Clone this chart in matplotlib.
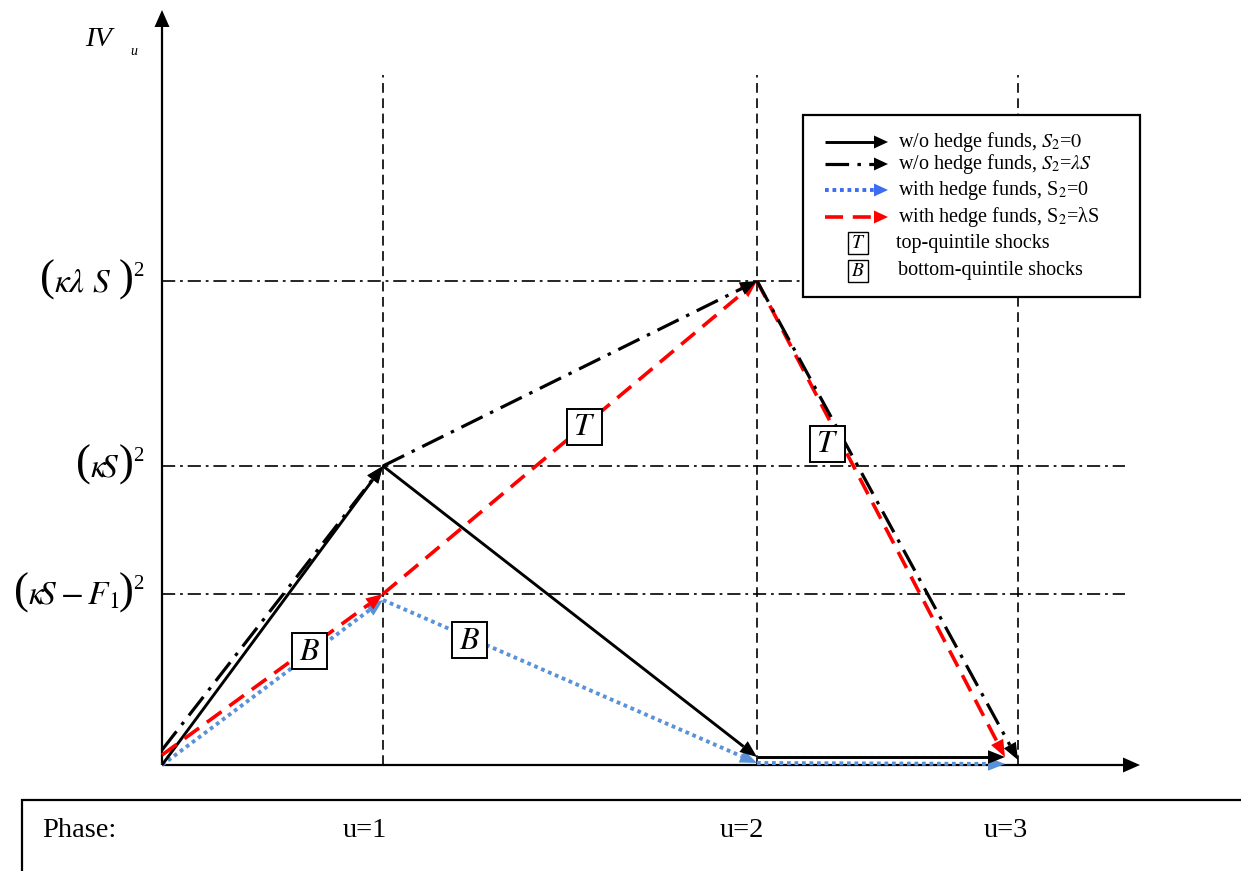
import numpy as np
import matplotlib
matplotlib.use("Agg")
import matplotlib.pyplot as plt
from matplotlib.patches import Polygon, Rectangle

plt.rcParams["font.family"] = ["Liberation Serif", "DejaVu Serif"]
plt.rcParams["mathtext.fontset"] = "stix"
plt.rcParams["lines.scale_dashes"] = False

# ---- diagram data (horizontal: phase position, vertical: IV level) ----
phase_pos = [2.21, 5.95, 8.56]              # u=1, u=2, u=3
phase_labels = ["u=1", "u=2", "u=3"]
level_vals = [1.71, 2.99, 4.84]             # (kS-F1)^2, (kS)^2, (k lambda S)^2
level_inner = [r"$\kappa\!S-F_1$", r"$\kappa\!S$", r"$\kappa\lambda\ S$"]
level_pad = [0.0, 0.0, 0.09]                # extra room before the closing bracket

# w/o hedge funds, S2 = 0
nohf_s0_x = [0.0, 2.21, 5.95, 8.43]
nohf_s0_y = [0.0, 2.99, 0.08, 0.08]
# w/o hedge funds, S2 = lambda S
nohf_ls_x = [0.0, 2.21, 5.95, 8.56]
nohf_ls_y = [0.15, 2.99, 4.84, 0.05]
# with hedge funds, S2 = 0
hf_s0_x = [0.0, 2.21, 5.95, 8.43]
hf_s0_y = [0.0, 1.65, 0.02, 0.01]
# with hedge funds, S2 = lambda S
hf_ls_x = [0.0, 2.21, 5.95, 8.43]
hf_ls_y = [0.10, 1.71, 4.84, 0.08]

# shock-type markers placed on the paths
tag_text = ["T", "T", "B", "B"]
tag_x = [4.225, 6.65, 1.475, 3.075]
tag_y = [3.385, 3.215, 1.14, 1.25]

legend_labels = [r"w/o hedge funds, $S_2$=$\mathit{0}$",
                 r"w/o hedge funds, $S_2$=$\lambda S$",
                 r"with hedge funds, S$_2$=0",
                 r"with hedge funds, S$_2$=λS",
                 "top-quintile shocks",
                 "bottom-quintile shocks"]

BLUE = "#5A92DA"
BLUE_LEG = "#3C6CF2"
RED = "#FF0000"
BLACK = "#000000"

STYLES = {
    "solid": dict(color=BLACK, ls="-", lw=2.1),
    "dashdot": dict(color=BLACK, ls=(0, (17, 6, 2.5, 6)), lw=2.3),
    "dotted": dict(color=BLUE, ls=(0, (2.7, 2.7)), lw=2.8),
    "dashed": dict(color=RED, ls=(0, (13, 7)), lw=2.6),
}

fig = plt.figure(figsize=(12.41, 8.71), dpi=100)
ax = fig.add_axes([0, 0, 1, 1])
ax.set_xlim(-1.62, 10.79)
ax.set_ylim(-1.06, 7.65)
ax.axis("off")
renderer = fig.canvas.get_renderer()

HL, HW = 0.17, 0.068


def arrow_seg(x0, y0, x1, y1, color, ls, lw, z=3, hl=HL, hw=HW, head=True):
    dx, dy = x1 - x0, y1 - y0
    L = np.hypot(dx, dy)
    ux, uy = dx / L, dy / L
    bx, by = (x1 - ux * hl, y1 - uy * hl) if head else (x1, y1)
    ax.plot([x0, bx], [y0, by], color=color, linestyle=ls, lw=lw,
            solid_capstyle="butt", dash_capstyle="butt", zorder=z)
    if head:
        pts = [(x1, y1), (bx - uy * hw, by + ux * hw), (bx + uy * hw, by - ux * hw)]
        ax.add_patch(Polygon(pts, closed=True, facecolor=color, edgecolor="none", zorder=z + 0.1))


def path(xs, ys, style, z):
    st = STYLES[style]
    for i in range(len(xs) - 1):
        arrow_seg(xs[i], ys[i], xs[i + 1], ys[i + 1], st["color"], st["ls"], st["lw"], z=z)


def width_of(t):
    return t.get_window_extent(renderer).width / 100.0


def level_label(x_right, yv, inner, pad):
    """Right-aligned (inner)^2 with tall parentheses, built right to left."""
    base = yv - 0.10
    sup = ax.text(x_right, yv + 0.05, "2", ha="right", va="baseline", fontsize=15, zorder=5)
    x = x_right - width_of(sup) + 0.01
    rp = ax.text(x, base, ")", ha="right", va="baseline", fontsize=32, zorder=5)
    x -= width_of(rp) - 0.01 + pad
    body = ax.text(x, base, inner, ha="right", va="baseline", fontsize=24, zorder=5)
    x -= width_of(body) - 0.01
    ax.text(x, base, "(", ha="right", va="baseline", fontsize=32, zorder=5)


# reference grid: vertical phase lines and horizontal level lines
for xp in phase_pos:
    ax.plot([xp, xp], [0, 6.90], color=BLACK, lw=1.2, ls=(0, (7, 4)), zorder=1)
level_ends = [9.63, 9.63, 6.41]
for yv, xe in zip(level_vals, level_ends):
    ax.plot([0, xe], [yv, yv], color=BLACK, lw=1.2, ls=(0, (9.5, 3.5, 2, 3.5)), zorder=1)

# axes with arrows
arrow_seg(0, 0, 0, 7.55, BLACK, "-", 1.6, z=2, hl=0.17, hw=0.075)
arrow_seg(0, 0, 9.78, 0, BLACK, "-", 1.6, z=2, hl=0.17, hw=0.075)

# paths
path(hf_s0_x, hf_s0_y, "dotted", 3)
path(nohf_s0_x, nohf_s0_y, "solid", 3.3)
path(hf_ls_x, hf_ls_y, "dashed", 3.6)
path(nohf_ls_x, nohf_ls_y, "dashdot", 3.9)

# level labels
for yv, inner, pad in zip(level_vals, level_inner, level_pad):
    level_label(-0.19, yv, inner, pad)

# axis title IV_u
ax.text(-0.77, 7.26, "IV", ha="left", va="center", fontsize=20.5, style="italic")
ax.text(-0.32, 7.14, "u", ha="left", va="center", fontsize=10, style="italic")

# T / B tags
for t, xc, yc in zip(tag_text, tag_x, tag_y):
    w, h = 0.35, 0.36
    ax.add_patch(Rectangle((xc - w / 2, yc - h / 2), w, h, facecolor="white",
                           edgecolor=BLACK, lw=1.4, zorder=6))
    ax.text(xc, yc - 0.01, "$" + t + "$", ha="center", va="center", fontsize=23, zorder=7)

# legend box
lx0, ly0, lx1, ly1 = 6.41, 4.68, 9.78, 6.50
ax.add_patch(Rectangle((lx0, ly0), lx1 - lx0, ly1 - ly0, facecolor="white",
                       edgecolor=BLACK, lw=1.6, zorder=8))
row_y = [6.23, 6.01, 5.75, 5.48, 5.22, 4.94]
leg_styles = ["solid", "dashdot", "dotted", "dashed"]
for i, style in enumerate(leg_styles):
    st = STYLES[style]
    col = BLUE_LEG if style == "dotted" else st["color"]
    arrow_seg(6.63, row_y[i], 7.26, row_y[i], col, st["ls"], st["lw"], z=9,
              hl=0.14, hw=0.065)
    ax.text(7.36, row_y[i], legend_labels[i], ha="left", va="center", fontsize=14.5, zorder=10)
for j, t in enumerate(["T", "B"]):
    yc = row_y[4 + j]
    ax.add_patch(Rectangle((6.86, yc - 0.11), 0.20, 0.22, facecolor="white",
                           edgecolor=BLACK, lw=1.0, zorder=9))
    ax.text(6.96, yc - 0.005, "$" + t + "$", ha="center", va="center", fontsize=14, zorder=10)
    ax.text(7.34 + 0.02 * j, yc, legend_labels[4 + j], ha="left", va="center",
            fontsize=14.5, zorder=10)

# phase strip at the bottom
ax.add_patch(Rectangle((-1.40, -1.5), 13.0, 1.15, facecolor="white",
                       edgecolor=BLACK, lw=1.6, zorder=2))
ax.text(-1.20, -0.65, "Phase:", ha="left", va="center", fontsize=20.5, zorder=3)
phase_label_x = [2.03, 5.80, 8.44]
for xl, lab in zip(phase_label_x, phase_labels):
    ax.text(xl, -0.65, lab, ha="center", va="center", fontsize=20.5, zorder=3)

fig.savefig("out.png", dpi=100)
